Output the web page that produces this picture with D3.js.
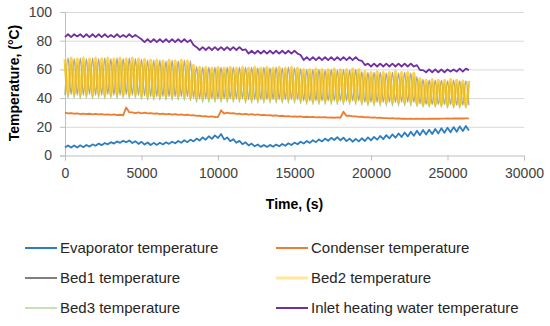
<!DOCTYPE html>
<html>
<head>
<meta charset="utf-8">
<script src="https://cdn.jsdelivr.net/npm/d3@7"></script>
<style>
  body { margin: 0; background: #fff; }
  text { font-family: "Liberation Sans", Arial, sans-serif; }
</style>
</head>
<body>
<div id="chart"></div>
<script>
const margin = { top: 12, right: 26, bottom: 170.5, left: 65 },
  width = 550 - margin.left - margin.right,
  height = 326 - margin.top - margin.bottom;

// samples every 200 s
const timeStep = 200;
const xTicks = [0, 5000, 10000, 15000, 20000, 25000, 30000];
const yTicks = [0, 20, 40, 60, 80, 100];

const evaporator = [
  5.5, 7, 5.5, 7, 5.6, 7.1, 5.8, 7.3, 6.2, 7.7,
  6.8, 8.3, 7.2, 8.7, 7.8, 9.3, 8.3, 9.8, 8.8, 10.3,
  9.2, 10.5, 8.7, 10, 8.1, 9.5, 7.6, 9.1, 7.3, 8.8,
  7.4, 8.9, 7.7, 9.2, 8.1, 9.6, 8.5, 10.1, 8.9, 10.6,
  9.3, 11.1, 9.8, 11.8, 10.4, 12.6, 11, 13.4, 11.6, 14,
  12.2, 15, 11.2, 12.6, 10, 11.4, 8.9, 10.2, 7.9, 9.2,
  7, 8.3, 6.4, 7.7, 6, 7.3, 6, 7.4, 6.1, 7.6,
  6.4, 8, 6.8, 8.5, 7.3, 9, 7.8, 9.6, 8.3, 10.1,
  8.8, 10.6, 9.3, 11.2, 9.8, 11.8, 10.3, 12.3, 10.8, 12.8,
  10.6, 12.4, 10, 11.8, 9.6, 11.6, 9.8, 12, 10.1, 12.6,
  10.5, 13, 11, 13.6, 11.4, 14.2, 11.9, 14.7, 12.4, 15.4,
  12.9, 16, 13.3, 16.6, 13.8, 17.2, 14.2, 17.8, 14.6, 18,
  15, 18.5, 15.4, 19, 15.8, 19.4, 16.2, 19.8, 16.6, 20.3,
  17, 20.6, 17.5
];
const condenser = [
  29.8, 29.3, 29.6, 29.1, 29.4, 28.9, 29.2, 28.8, 29.1, 28.7,
  29, 28.6, 28.9, 28.5, 28.7, 28.3, 28.6, 28.2, 28.4, 28,
  33.5, 30.2, 30, 29.5, 30, 29.4, 29.8, 29.3, 29.6, 29.1,
  29.4, 28.9, 29.2, 28.7, 29, 28.5, 28.8, 28.3, 28.6, 28.1,
  28.4, 27.9, 28.1, 27.6, 27.8, 27.3, 27.5, 27, 27.2, 26.7,
  26.8, 31.5, 29.2, 29.8, 29.3, 29.5, 29, 29.2, 28.7, 29,
  28.5, 28.8, 28.3, 28.6, 28.1, 28.3, 27.9, 28.1, 27.7, 27.9,
  27.5, 27.7, 27.3, 27.5, 27.1, 27.3, 27, 27.2, 26.8, 27,
  26.7, 26.9, 26.6, 26.8, 26.5, 26.7, 26.4, 26.6, 26.3, 26.5,
  26.3, 30.5, 27.6, 27.8, 27.2, 27.3, 26.9, 27, 26.6, 26.7,
  26.4, 26.5, 26.2, 26.3, 26, 26.1, 25.9, 26, 25.7, 25.8,
  25.6, 25.7, 25.5, 25.6, 25.5, 25.6, 25.5, 25.6, 25.5, 25.6,
  25.6, 25.7, 25.6, 25.7, 25.7, 25.8, 25.7, 25.8, 25.8, 25.9,
  25.8, 25.9, 25.9
];
const bed1 = [
  42, 68, 42.5, 67.5, 42, 68, 42, 67.5, 42.5, 68,
  42, 67.5, 42, 68, 42.5, 67.5, 42, 68, 42, 67.5,
  42.5, 68, 42, 67.5, 42, 67, 41.5, 66.5, 41, 66.5,
  41, 66.5, 41, 66, 41, 66.5, 41, 66, 41, 66.5,
  41, 66, 40, 62, 39.5, 61.5, 39.5, 61.5, 39.5, 61.5,
  39.5, 61.5, 39.5, 61.5, 39.5, 61.5, 39.5, 61.5, 39.5, 61.5,
  39, 61.5, 39, 61, 39, 61.5, 39, 61, 39, 61.5,
  39, 61, 39, 61.5, 39, 61, 39, 60.5, 38, 60,
  38, 60, 38, 60, 38, 59.5, 38, 60, 38, 59.5,
  38, 60, 38, 59.5, 38, 60, 38, 58.5, 37, 58,
  37, 58, 37, 58, 37, 57.5, 37, 58, 37, 57.5,
  37, 58, 37, 57.5, 37, 55, 36, 53, 35.5, 52.5,
  35.5, 52.5, 35.5, 52.5, 35.5, 52, 35.5, 52.5, 35, 52,
  35, 52, 35
];
const bed2 = [
  67, 43, 68, 42.5, 67.5, 42, 68, 42.5, 67.5, 42,
  68, 42.5, 67.5, 42, 68, 42, 67.5, 42.5, 68, 42,
  67.5, 42, 68, 42.5, 67.5, 41.5, 67, 41, 66.5, 41,
  66.5, 41, 66, 41, 66.5, 41, 66, 41, 66.5, 41,
  66, 40.5, 63, 39.5, 61.5, 39.5, 61.5, 39.5, 61, 39.5,
  61.5, 39.5, 61, 39.5, 61.5, 39.5, 61, 39.5, 61.5, 39,
  61, 39, 61.5, 39, 61, 39, 61.5, 39, 61, 39,
  61.5, 39, 61, 39, 61.5, 39, 61, 38.5, 60, 38,
  60, 38, 60.5, 38, 60, 38, 60, 38, 60.5, 38,
  60, 38, 60, 38, 60.5, 38, 60, 37.5, 58.5, 37,
  58, 37, 58.5, 37, 58, 37, 58, 37, 58.5, 37,
  58, 37, 58, 37, 57.5, 36, 53.5, 35.5, 52.5, 35.5,
  53, 35.5, 52.5, 35.5, 52.5, 35, 53, 35, 52.5, 35,
  52, 35, 52
];
const bed3 = [
  64, 40, 65, 40, 64.5, 39.5, 65, 40, 64.5, 39.5,
  65, 40, 64.5, 39.5, 65, 40, 64.5, 39.5, 65, 40,
  64.5, 39.5, 65, 40, 64.5, 39, 64, 38.5, 63.5, 38.5,
  63.5, 38.5, 63, 38.5, 63.5, 38.5, 63, 38.5, 63.5, 38.5,
  63, 38, 60, 37, 59, 37, 59, 37, 58.5, 37,
  59, 37, 58.5, 37, 59, 37, 58.5, 37, 59, 36.5,
  58.5, 36.5, 59, 36.5, 58.5, 36.5, 59, 36.5, 58.5, 36.5,
  59, 36.5, 58.5, 36.5, 59, 36.5, 58.5, 36, 57.5, 35.5,
  57.5, 35.5, 58, 35.5, 57.5, 35.5, 57.5, 35.5, 58, 35.5,
  57.5, 35.5, 57.5, 35.5, 58, 35.5, 57.5, 35, 56, 34.5,
  55.5, 34.5, 56, 34.5, 55.5, 34.5, 55.5, 34.5, 56, 34.5,
  55.5, 34.5, 55.5, 34.5, 55, 34, 51.5, 33.5, 50.5, 33.5,
  51, 33.5, 50.5, 33.5, 50.5, 33, 51, 33, 50.5, 33,
  50, 33, 50
];
const inlet = [
  82.5, 84.5, 82.5, 84.5, 83, 84.5, 82.5, 84.5, 82.5, 84.5,
  82.5, 84.5, 82.5, 84.5, 82.5, 84, 82.5, 84.5, 82.5, 84,
  82.5, 84.5, 82.5, 84, 82.5, 81, 79, 81, 79, 81,
  79, 81, 79, 81, 79, 81, 79, 81, 79, 81,
  79, 80.5, 77, 75.5, 73.5, 75.5, 73.5, 75.5, 73.5, 75.5,
  73.5, 75.5, 73.5, 75.5, 73.5, 75.5, 73.5, 75.5, 73.5, 74,
  71, 73, 71, 73, 71, 73, 71, 73, 71, 73,
  71, 73, 71, 73, 71, 73, 71, 70, 66.5, 68.5,
  66.5, 68.5, 66.5, 68.5, 66.5, 68.5, 66.5, 68.5, 66.5, 68.5,
  66.5, 68.5, 66.5, 68.5, 66.5, 68.5, 66.5, 66, 63, 64,
  62, 64, 62, 64, 62, 64, 62, 64, 62, 64,
  62, 64, 62, 64, 62, 63, 59.5, 59.5, 58, 60,
  58, 60, 58, 60, 58, 60, 58.5, 60, 58.5, 60.5,
  58.5, 60.5, 59.5
];

const seriesNames = [
  "Evaporator temperature", "Condenser temperature",
  "Bed1 temperature", "Bed2 temperature",
  "Bed3 temperature", "Inlet heating water temperature"
];

const svg = d3
  .select("#chart")
  .append("svg")
  .attr("width", 550)
  .attr("height", 326);

const g = svg.append("g").attr("transform", `translate(${margin.left},${margin.top})`);

const x = d3.scaleLinear().domain([0, 30000]).range([0, width]);
const y = d3.scaleLinear().domain([0, 100]).range([height, 0]);

// horizontal gridlines
g.append("g")
  .call(d3.axisLeft(y).tickValues(yTicks.slice(1)).tickSize(-width).tickFormat(""))
  .call((a) => a.select(".domain").remove())
  .selectAll("line")
  .attr("stroke", "#d9d9d9");

// y axis
const yAxis = g.append("g").call(d3.axisLeft(y).tickValues(yTicks).tickSize(5).tickPadding(8));
yAxis.selectAll("text").style("font-size", "14px").attr("fill", "#404040");

// x axis
const xAxis = g.append("g")
  .attr("transform", `translate(0,${height})`)
  .call(d3.axisBottom(x).tickValues(xTicks).tickSize(5).tickFormat(d3.format("d")).tickPadding(8));
xAxis.selectAll("text").style("font-size", "14px").attr("fill", "#404040");

yAxis.selectAll(".domain, .tick line").attr("stroke", "#bfbfbf");
xAxis.selectAll(".domain, .tick line").attr("stroke", "#bfbfbf");

// axis titles
svg.append("text")
  .attr("x", margin.left + width / 2)
  .attr("y", 209)
  .attr("text-anchor", "middle")
  .style("font-size", "14px")
  .style("font-weight", "bold")
  .text("Time, (s)");

svg.append("text")
  .attr("transform", `translate(18.5,${margin.top + 71}) rotate(-90)`)
  .attr("text-anchor", "middle")
  .style("font-size", "14px")
  .style("font-weight", "bold")
  .text("Temperature, (°C)");

// lines (Bed2 is drawn semi-transparent over Bed1, as the band looks in the picture)
const series = [
  { values: evaporator, color: "#2e7ebf", w: 1.8, op: 1, curve: d3.curveLinear },
  { values: condenser, color: "#ed7d31", w: 1.8, op: 1, curve: d3.curveLinear },
  { values: bed3, color: "#a9d18e", w: 1.3, op: 1, curve: d3.curveMonotoneX },
  { values: bed1, color: "#a5a5a5", w: 1.3, op: 1, curve: d3.curveMonotoneX },
  { values: bed2, color: "#ffc000", w: 3, op: 0.7, curve: d3.curveMonotoneX },
  { values: inlet, color: "#7030a0", w: 1.8, op: 1, curve: d3.curveLinear }
];

series.forEach((s) => {
  const line = d3.line()
    .x((d, i) => x(i * timeStep))
    .y((d) => y(d))
    .curve(s.curve);
  g.append("path")
    .datum(s.values)
    .attr("fill", "none")
    .attr("stroke", s.color)
    .attr("stroke-width", s.w)
    .attr("stroke-opacity", s.op)
    .attr("stroke-linejoin", "round")
    .attr("d", line);
});

// legend
const legendItems = [
  { name: seriesNames[0], color: "#2e7ebf", w: 2 },
  { name: seriesNames[1], color: "#ed7d31", w: 2 },
  { name: seriesNames[2], color: "#7f7f7f", w: 2 },
  { name: seriesNames[3], color: "#ffe699", w: 3 },
  { name: seriesNames[4], color: "#c5e0b4", w: 2 },
  { name: seriesNames[5], color: "#7030a0", w: 2 }
];
const legendCols = [25, 276];
const legendRows = [248, 278, 308];

const legend = svg.append("g")
  .selectAll("g")
  .data(legendItems)
  .join("g")
  .attr("transform", (d, i) => `translate(${legendCols[i % 2]},${legendRows[Math.floor(i / 2)]})`);

legend.append("line")
  .attr("x1", 0).attr("x2", 32)
  .attr("stroke", (d) => d.color)
  .attr("stroke-width", (d) => d.w);

legend.append("text")
  .attr("x", 35)
  .attr("dy", "0.35em")
  .style("font-size", "15px")
  .attr("fill", "#262626")
  .text((d) => d.name);
</script>
</body>
</html>
